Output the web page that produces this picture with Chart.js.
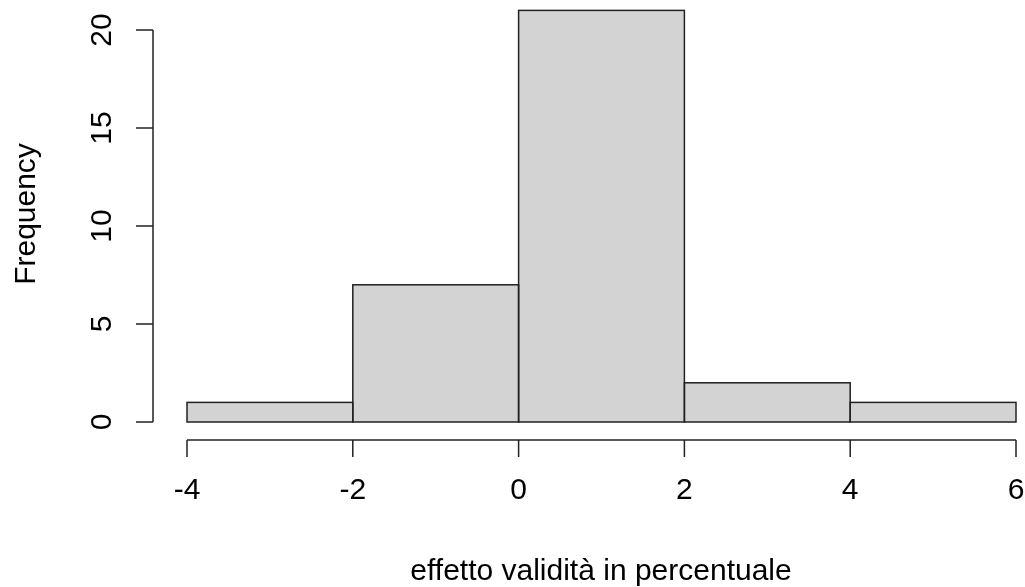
<!DOCTYPE html>
<html>
<head>
<meta charset="utf-8">
<script src="https://cdn.jsdelivr.net/npm/chart.js@4"></script>
<style>
  html, body { margin: 0; padding: 0; background: #fff; }
  #wrap { width: 1025px; height: 587px; }
</style>
</head>
<body>
<div id="wrap"><canvas id="hist" width="1025" height="587"></canvas></div>
<script>
// histogram bins (midpoints) and counts
const binMids = [-3, -1, 1, 3, 5];
const counts = [1, 7, 21, 2, 1];
const xTicks = [-4, -2, 0, 2, 4, 6];
const yTicks = [0, 5, 10, 15, 20];
const xTitle = 'effetto validità in percentuale';
const yTitle = 'Frequency';

const FONT = '30px "Liberation Sans", Arial, sans-serif';
const INK = '#222';

// R-style axes drawn from the chart's own scales
const rAxes = {
    id: 'rAxes',
    afterDatasetsDraw(chart) {
        const { ctx } = chart;
        const meta = chart.getDatasetMeta(0);

        // bar outlines, centred on the bin edges
        ctx.save();
        ctx.strokeStyle = INK;
        ctx.lineWidth = 1.5;
        meta.data.forEach(bar => {
            const { x: cx, y: top, base, width } = bar.getProps(['x', 'y', 'base', 'width'], true);
            ctx.strokeRect(cx - width / 2, top, width, base - top);
        });
        ctx.restore();
    },
    afterDraw(chart) {
        const { ctx, scales: { x, y } } = chart;
        const axisX = chart.chartArea.left - 34;
        const axisY = y.getPixelForValue(0) + 18;
        const tick = 17;

        ctx.save();
        ctx.strokeStyle = INK;
        ctx.lineWidth = 1.5;
        ctx.fillStyle = '#000';
        ctx.font = FONT;

        // x axis
        const x0 = x.getPixelForValue(xTicks[0]);
        const x1 = x.getPixelForValue(xTicks[xTicks.length - 1]);
        ctx.beginPath();
        ctx.moveTo(x0, axisY);
        ctx.lineTo(x1, axisY);
        xTicks.forEach(v => {
            const px = x.getPixelForValue(v);
            ctx.moveTo(px, axisY);
            ctx.lineTo(px, axisY + tick);
        });
        ctx.stroke();
        ctx.textAlign = 'center';
        ctx.textBaseline = 'alphabetic';
        xTicks.forEach(v => {
            ctx.fillText(String(v), x.getPixelForValue(v), 499);
        });

        // y axis
        const y0 = y.getPixelForValue(yTicks[0]);
        const y1 = y.getPixelForValue(yTicks[yTicks.length - 1]);
        ctx.beginPath();
        ctx.moveTo(axisX, y0);
        ctx.lineTo(axisX, y1);
        yTicks.forEach(v => {
            const py = y.getPixelForValue(v);
            ctx.moveTo(axisX, py);
            ctx.lineTo(axisX - tick, py);
        });
        ctx.stroke();
        yTicks.forEach(v => {
            ctx.save();
            ctx.translate(111, y.getPixelForValue(v));
            ctx.rotate(-Math.PI / 2);
            ctx.fillText(String(v), 0, 0);
            ctx.restore();
        });

        // titles
        ctx.fillText(xTitle, 601, 580);
        ctx.save();
        ctx.translate(35, 214);
        ctx.rotate(-Math.PI / 2);
        ctx.fillText(yTitle, 0, 0);
        ctx.restore();

        ctx.restore();
    }
};

new Chart(document.getElementById('hist'), {
    type: 'bar',
    data: {
        datasets: [{
            data: binMids.map((m, i) => ({ x: m, y: counts[i] })),
            backgroundColor: '#d3d3d3',
            borderWidth: 0,
            barPercentage: 1,
            categoryPercentage: 1
        }]
    },
    options: {
        responsive: false,
        animation: false,
        layout: { padding: { left: 187, right: 9, top: 10.4, bottom: 165 } },
        scales: {
            x: { type: 'linear', min: -4, max: 6, offset: false, display: false, ticks: { stepSize: 2 } },
            y: { min: 0, max: 21, display: false }
        },
        plugins: {
            legend: { display: false },
            tooltip: { enabled: false }
        }
    },
    plugins: [rAxes]
});
</script>
</body>
</html>
